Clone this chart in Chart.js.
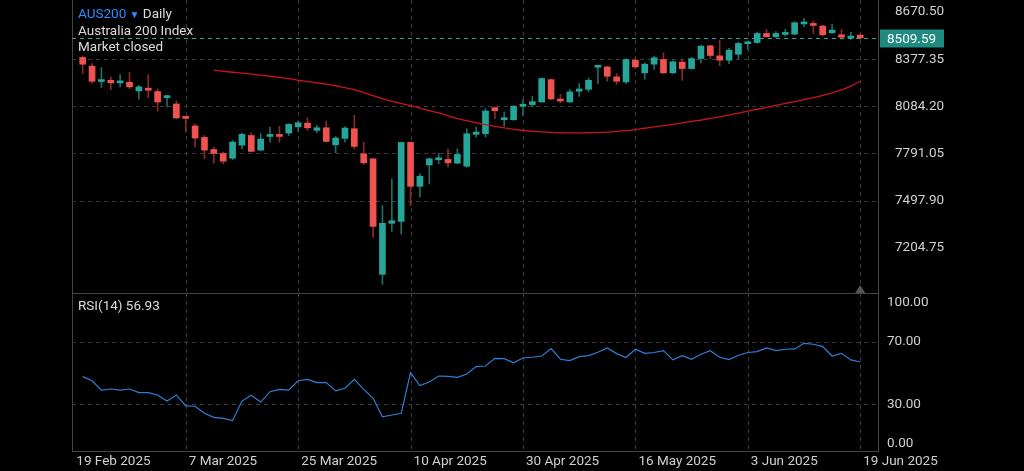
<!DOCTYPE html>
<html lang="en">
<head>
<meta charset="UTF-8">
<title>AUS200 Daily</title>
<script src="https://cdn.jsdelivr.net/npm/chart.js"></script>
<style>
    body { margin: 0; background: #000; font-family: Roboto, Arial, sans-serif; }
    #wrap { position: relative; width: 1024px; height: 471px; overflow: hidden; }
    #top { position: absolute; left: 0; top: 0; }
    #bottom { position: absolute; left: 0; top: 293px; }
    .info { position: absolute; left: 78px; color: #ddd; font-size: 13.5px; }
</style>
</head>
<body>
<div id="wrap">
    <canvas id="top" width="1024" height="293"></canvas>
    <canvas id="bottom" width="1024" height="178"></canvas>
    <div class="info" style="top:5px"><span style="color:#2e8bff">AUS200</span> <span style="color:#2e8bff;font-size:10px">▼</span> Daily</div>
    <div class="info" style="top:22px">Australia 200 Index</div>
    <div class="info" style="top:38px">Market closed</div>
    <div class="info" style="top:297px">RSI(14) 56.93</div>
</div>
<script>
// daily candles, 19 Feb 2025 - 19 Jun 2025
const opens  = [8388,8334,8238,8246,8230,8234,8180,8197,8176,8138,8099,8018,7962,7891,7816,7791,7762,7843,7903,7812,7897,7905,7918,7957,7980,7935,7951,7845,7885,7945,7789,7758,7040,7357,7369,7860,7587,7720,7752,7754,7731,7712,7910,7914,8076,8001,8001,8084,8095,8111,8250,8128,8111,8178,8190,8327,8329,8267,8236,8371,8292,8346,8375,8292,8359,8319,8381,8460,8398,8371,8408,8473,8481,8537,8517,8531,8533,8596,8598,8583,8541,8529,8508,8527];
const highs  = [8396,8350,8325,8267,8282,8296,8215,8282,8192,8153,8118,8022,7976,7903,7831,7799,7872,7918,7920,7914,7955,7960,7976,7991,8014,7966,7993,7897,7959,8028,7862,7760,7467,7633,7860,7862,7664,7764,7793,7818,7820,7945,7955,8070,8080,8049,8090,8126,8146,8261,8255,8159,8188,8225,8259,8338,8334,8288,8381,8388,8354,8396,8417,8367,8379,8388,8465,8465,8496,8444,8483,8485,8546,8562,8548,8562,8610,8631,8614,8589,8596,8562,8544,8529];
const lows   = [8288,8226,8201,8188,8205,8194,8128,8138,8055,8080,8007,7924,7831,7760,7731,7727,7752,7820,7804,7810,7862,7862,7903,7928,7935,7920,7862,7795,7862,7820,7723,7269,6978,7307,7290,7467,7519,7602,7727,7706,7727,7706,7893,7893,8007,7959,7997,8028,8080,8111,8126,8105,8109,8146,8174,8225,8240,8221,8225,8319,8253,8313,8288,8288,8246,8313,8354,8379,8336,8350,8381,8438,8475,8512,8512,8521,8529,8579,8537,8521,8537,8500,8500,8500];
const closes = [8346,8240,8248,8230,8240,8205,8205,8184,8111,8149,8012,8009,7887,7812,7791,7743,7862,7910,7804,7881,7905,7897,7972,7982,7951,7951,7866,7887,7949,7835,7733,7338,7357,7373,7860,7587,7650,7758,7756,7733,7785,7914,7924,8055,8057,8005,8084,8097,8113,8257,8130,8117,8174,8192,8246,8334,8271,8240,8375,8329,8346,8386,8292,8361,8319,8381,8458,8400,8371,8433,8475,8483,8537,8517,8537,8539,8604,8602,8587,8529,8558,8514,8521,8509.59];
// moving average, starts at candle 14
const maStart = 14;
const maValues = [8309,8302,8296,8290,8284,8278,8271,8264,8256,8246,8238,8230,8222,8212,8200,8188,8170,8150,8132,8115,8102,8088,8073,8058,8043,8026,8008,7995,7982,7970,7960,7950,7941,7934,7929,7925,7922,7920,7919,7919,7920,7921,7924,7928,7933,7940,7948,7956,7964,7972,7981,7990,7999,8009,8019,8030,8042,8054,8066,8078,8090,8102,8114,8126,8138,8152,8168,8186,8210,8240];
const rsiValues = [47.6,45,39,39.7,39,39.7,37.4,37.4,35.9,32,35.9,28.9,28.7,24.2,21.6,21,19.5,32,35.7,31.4,38,39.5,39,45,45.9,43.8,43.8,38.5,40.2,45.9,39.5,33.8,22,23.1,24.2,50.2,41.9,44.2,48,47.8,47.2,49.3,54,54.4,59.3,59.1,56.4,59.5,60,60.8,65.5,58.7,57.8,60.4,61,63.2,65.9,62.3,59.8,65.1,62.5,63,64.2,58.3,61,58.7,61.9,64.2,60,58.5,61.3,63,63.6,65.9,64.2,65.1,65.3,68.9,68.3,66.8,60.8,62.5,58.3,56.93];
const priceTicks = [7204.75,7497.90,7791.05,8084.20,8377.35,8670.50];
const rsiTicks = [0,30,70,100];
const dateTicks = [-1,11,23,35,47,59,71,83];
const dateLabels = ['19 Feb 2025','7 Mar 2025','25 Mar 2025','10 Apr 2025','30 Apr 2025','16 May 2025','3 Jun 2025','19 Jun 2025'];
const lastPrice = 8509.59;

const UP = '#26a69a', DOWN = '#ef5350', UPW = '#1d6e66', DOWNW = '#8a2a28';
const TEXT = '#d0d0d0', GRID = '#3a3a3a';
const xMin = -1.14, xMax = 84.9;

const isUp = opens.map((o, i) => closes[i] >= o);

function rightAxis(min, max, ticks, fmt, showTicks) {
    return {
        position: 'right', min: min, max: max,
        afterFit: s => { s.width = 146; s.paddingTop = 0; s.paddingBottom = 0; },
        afterBuildTicks: s => { s.ticks = ticks.map(v => ({ value: v })); },
        grid: { display: false }, border: { display: false },
        ticks: { display: showTicks, color: TEXT, font: { size: 13.5, family: 'Roboto' }, padding: 9, callback: fmt }
    };
}

function dashLine(ctx, x1, y1, x2, y2, color) {
    ctx.save();
    ctx.strokeStyle = color; ctx.lineWidth = 1; ctx.setLineDash([4, 4]);
    ctx.beginPath(); ctx.moveTo(x1, y1); ctx.lineTo(x2, y2); ctx.stroke();
    ctx.restore();
}

function frame(chart, hLines, withLabels) {
    const { ctx, chartArea: a, scales } = chart;
    dateTicks.slice(1).forEach(i => {
        const x = Math.round(scales.x.getPixelForValue(i)) + 0.5;
        dashLine(ctx, x, a.top, x, a.bottom, GRID);
    });
    hLines.forEach(v => {
        const y = Math.round(scales.y.getPixelForValue(v)) + 0.5;
        dashLine(ctx, a.left, y, a.right, y, GRID);
    });
    ctx.save();
    ctx.strokeStyle = '#444'; ctx.lineWidth = 1;
    ctx.beginPath();
    ctx.moveTo(a.left + 0.5, a.top); ctx.lineTo(a.left + 0.5, a.bottom);
    ctx.moveTo(a.right + 0.5, a.top); ctx.lineTo(a.right + 0.5, a.bottom);
    if (withLabels) {
        ctx.moveTo(a.left, a.top + 0.5); ctx.lineTo(a.right, a.top + 0.5);
        ctx.moveTo(a.left, a.bottom - 0.5); ctx.lineTo(a.right, a.bottom - 0.5);
    }
    ctx.stroke();
    if (withLabels) {
        ctx.fillStyle = TEXT; ctx.font = '13.5px Roboto'; ctx.textBaseline = 'middle';
        dateTicks.forEach((i, k) => {
            const x = scales.x.getPixelForValue(i);
            ctx.fillText(dateLabels[k], x + 3, a.bottom + 10);
        });
        // rsi axis labels, kept inside the panel at the ends
        rsiTicks.forEach(v => {
            let y = scales.y.getPixelForValue(v);
            if (v === 100) y += 8;
            if (v === 0) y -= 8;
            ctx.fillText(v.toFixed(2), a.right + 9, y);
        });
    }
    ctx.restore();
}

const topGrid = {
    id: 'topGrid',
    beforeDatasetsDraw(chart) { frame(chart, priceTicks.slice(1, -1), false); },
    afterDatasetsDraw(chart) {
        const { ctx, chartArea: a, scales } = chart;
        const y = Math.round(scales.y.getPixelForValue(lastPrice)) + 0.5;
        dashLine(ctx, a.left, y, a.right, y, '#26a69a');
        ctx.save();
        ctx.fillStyle = '#1f8a80';
        ctx.fillRect(a.right + 2, y - 9, 64, 18);
        ctx.fillStyle = '#fff'; ctx.font = '13.5px Roboto'; ctx.textBaseline = 'middle';
        ctx.fillText(lastPrice.toFixed(2), a.right + 9, y + 1);
        ctx.fillStyle = '#555';
        const tx = scales.x.getPixelForValue(83);
        ctx.beginPath(); ctx.moveTo(tx - 5, a.bottom); ctx.lineTo(tx + 5, a.bottom); ctx.lineTo(tx, a.bottom - 8); ctx.fill();
        ctx.restore();
    }
};

new Chart(document.getElementById('top'), {
    type: 'bar',
    data: {
        datasets: [
            {
                data: lows.map((l, i) => ({ x: i, y: [l, highs[i]] })),
                backgroundColor: isUp.map(u => u ? UPW : DOWNW),
                barThickness: 1, grouped: false, order: 2
            },
            {
                data: opens.map((o, i) => ({ x: i, y: [o, closes[i]] })),
                backgroundColor: isUp.map(u => u ? UP : DOWN),
                barThickness: 6, grouped: false, minBarLength: 2, order: 1
            },
            {
                type: 'line',
                data: maValues.map((v, k) => ({ x: maStart + k, y: v })),
                borderColor: '#c8141c', borderWidth: 1.3, pointRadius: 0, tension: 0.3, order: 0
            }
        ]
    },
    options: {
        responsive: false, animation: false,
        layout: { padding: { left: 72, top: 0, bottom: 0, right: 0 } },
        plugins: { legend: { display: false }, tooltip: { enabled: false } },
        scales: {
            x: { type: 'linear', min: xMin, max: xMax, display: false, offset: false },
            y: rightAxis(6924, 8745, priceTicks, v => v.toFixed(2), true)
        }
    },
    plugins: [topGrid]
});

new Chart(document.getElementById('bottom'), {
    type: 'line',
    data: {
        datasets: [{
            data: rsiValues.map((v, i) => ({ x: i, y: v })),
            borderColor: '#2f7fd8', borderWidth: 1.2, pointRadius: 0, tension: 0
        }]
    },
    options: {
        responsive: false, animation: false,
        layout: { padding: { left: 72, top: 0, bottom: 19, right: 0 } },
        plugins: { legend: { display: false }, tooltip: { enabled: false } },
        scales: {
            x: { type: 'linear', min: xMin, max: xMax, display: false },
            y: rightAxis(-0.5, 101, rsiTicks, v => v.toFixed(2), false)
        }
    },
    plugins: [{ id: 'rsiGrid', beforeDatasetsDraw(chart) { frame(chart, [30, 70], true); } }]
});
</script>
</body>
</html>
